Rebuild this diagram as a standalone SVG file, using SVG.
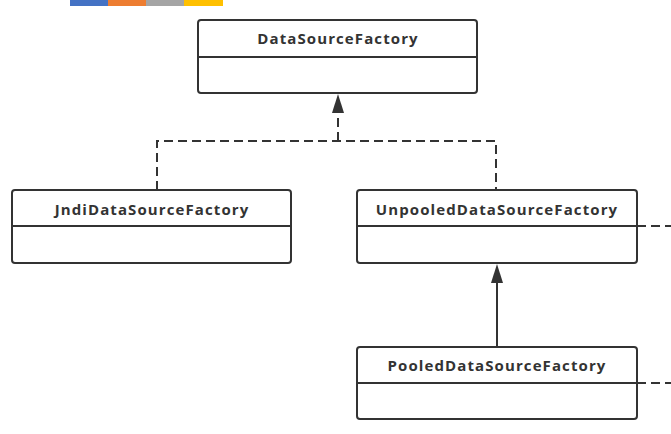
<svg xmlns="http://www.w3.org/2000/svg" width="671" height="434" viewBox="0 0 671 434">
<style>
.box{fill:#fff;stroke:#333;stroke-width:2}
.div{stroke:#333;stroke-width:2}
.lbl{font-family:"Open Sans","DejaVu Sans",sans-serif;font-weight:bold;font-size:15px;letter-spacing:1.1px;fill:#333;text-anchor:middle}
.dash{fill:none;stroke:#333;stroke-width:2;stroke-dasharray:9 5}
.solid{fill:none;stroke:#333;stroke-width:2}
</style>
<rect x="70" y="0" width="38" height="6" fill="#4472c4"/>
<rect x="108" y="0" width="38" height="6" fill="#ed7d31"/>
<rect x="146" y="0" width="38" height="6" fill="#a5a5a5"/>
<rect x="184" y="0" width="39" height="6" fill="#ffc000"/>
<g id="connectors">
<path class="dash" d="M157 190 V141 H496 V190"/>
<path class="dash" d="M338 141 V112"/>
<path d="M338 94 L344 113 L332 113 Z" fill="#333"/>
<path class="solid" d="M497 347 V282"/>
<path d="M497 264 L503 283 L491 283 Z" fill="#333"/>
<path class="dash" d="M637 226 H671"/>
<path class="dash" d="M637 383 H671"/>
</g>
<g id="DataSourceFactory">
<rect class="box" x="198" y="20" width="279" height="73" rx="3"/>
<line class="div" x1="198" y1="57" x2="477" y2="57"/>
<text class="lbl" x="338" y="44">DataSourceFactory</text>
</g>
<g id="JndiDataSourceFactory">
<rect class="box" x="12" y="190" width="279" height="73" rx="3"/>
<line class="div" x1="12" y1="226" x2="291" y2="226"/>
<text class="lbl" x="152" y="215">JndiDataSourceFactory</text>
</g>
<g id="UnpooledDataSourceFactory">
<rect class="box" x="357" y="190" width="280" height="73" rx="3"/>
<line class="div" x1="357" y1="226" x2="637" y2="226"/>
<text class="lbl" x="497" y="215">UnpooledDataSourceFactory</text>
</g>
<g id="PooledDataSourceFactory">
<rect class="box" x="357" y="347" width="280" height="72" rx="3"/>
<line class="div" x1="357" y1="383" x2="637" y2="383"/>
<text class="lbl" x="497" y="371">PooledDataSourceFactory</text>
</g>
</svg>
